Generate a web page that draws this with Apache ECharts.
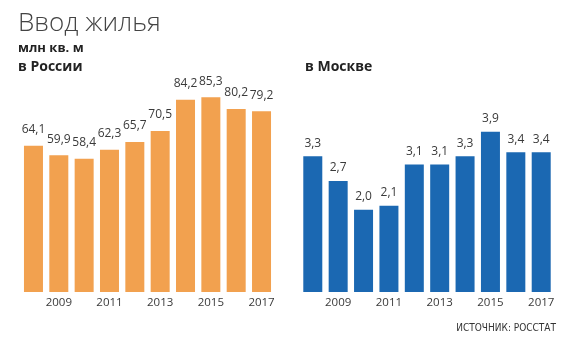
<!DOCTYPE html>
<html><head><meta charset="utf-8">
<script src="https://cdn.jsdelivr.net/npm/echarts@6/dist/echarts.min.js"></script>
<style>html,body{margin:0;padding:0;background:#fff}#c{width:570px;height:349px}</style>
</head><body><div id="c"></div>
<script>
const years = ['2008','2009','2010','2011','2012','2013','2014','2015','2016','2017'];
const russia = [64.1, 59.9, 58.4, 62.3, 65.7, 70.5, 84.2, 85.3, 80.2, 79.2];
const moscow = [3.3, 2.7, 2.0, 2.1, 3.1, 3.1, 3.3, 3.9, 3.4, 3.4];
const titleText = 'Ввод жилья';
const unitText = 'млн кв. м';
const leftLabel = 'в России';
const rightLabel = 'в Москве';
const sourceText = 'ИСТОЧНИК: РОССТАТ';

const FONT = '"Open Sans", "Noto Sans", sans-serif';
const chart = echarts.init(document.getElementById('c'), null, {renderer:'canvas'});
const fmt = p => p.value.toFixed(1).replace('.', ',');
const xAxisBase = (gi) => ({
  type:'category', gridIndex:gi, data:years,
  axisLine:{show:false}, axisTick:{show:false},
  axisLabel:{interval:(i)=>i%2===1, color:'#3a3a3a', fontSize:11.5, fontFamily:FONT, margin:5}
});
chart.setOption({
  animation:false,
  title:[
    {text:titleText, left:13, top:6, textStyle:{fontFamily:FONT, fontWeight:300, fontSize:26, color:'#444'}},
    {text:unitText, left:13, top:37, textStyle:{fontFamily:FONT, fontWeight:'bold', fontSize:13, color:'#222'}},
    {text:leftLabel, left:13, top:55, textStyle:{fontFamily:FONT, fontWeight:'bold', fontSize:14, color:'#222'}},
    {text:rightLabel, left:300, top:55, textStyle:{fontFamily:FONT, fontWeight:'bold', fontSize:14, color:'#222'}},
    {text:sourceText, right:9, top:318, textStyle:{fontFamily:'"Liberation Sans Narrow", "DejaVu Sans Condensed", sans-serif', fontWeight:'normal', fontSize:10, color:'#333'}}
  ],
  grid:[
    {left:20.8, right:295.8, top:63.7, bottom:57},
    {left:300.1, right:16.1, top:86.5, bottom:57}
  ],
  xAxis:[xAxisBase(0), xAxisBase(1)],
  yAxis:[
    {type:'value', gridIndex:0, min:0, max:100, show:false},
    {type:'value', gridIndex:1, min:0, max:5, show:false}
  ],
  series:[
    {type:'bar', xAxisIndex:0, yAxisIndex:0, data:russia, barWidth:19,
     itemStyle:{color:'#F2A14F'},
     label:{show:true, position:'top', distance:10, formatter:fmt, color:'#3a3a3a', fontSize:12, fontFamily:FONT}},
    {type:'bar', xAxisIndex:1, yAxisIndex:1, data:moscow, barWidth:19,
     itemStyle:{color:'#1B68B2'},
     label:{show:true, position:'top', distance:7, formatter:fmt, color:'#3a3a3a', fontSize:12, fontFamily:FONT}}
  ]
});
</script></body></html>
